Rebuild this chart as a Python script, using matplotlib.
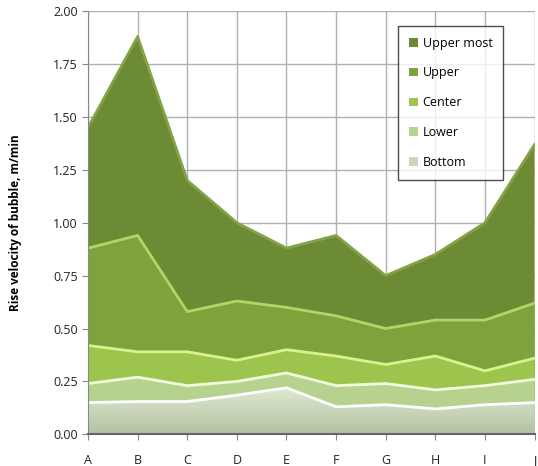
import matplotlib
matplotlib.use("Agg")
import matplotlib.pyplot as plt
import numpy as np
from matplotlib.colors import LinearSegmentedColormap

categories = ["A", "B", "C", "D", "E", "F", "G", "H", "I", "J"]
upper_most = [1.45, 1.88, 1.20, 1.00, 0.88, 0.94, 0.75, 0.85, 1.00, 1.37]
upper = [0.88, 0.94, 0.58, 0.63, 0.60, 0.56, 0.50, 0.54, 0.54, 0.62]
center = [0.42, 0.39, 0.39, 0.35, 0.40, 0.37, 0.33, 0.37, 0.30, 0.36]
lower = [0.24, 0.27, 0.23, 0.25, 0.29, 0.23, 0.24, 0.21, 0.23, 0.26]
bottom = [0.15, 0.155, 0.155, 0.185, 0.22, 0.13, 0.14, 0.12, 0.14, 0.15]

series = [
    ("Upper most", upper_most, "#6d8a35", "#84a247"),
    ("Upper", upper, "#80a23d", "#b4d46a"),
    ("Center", center, "#9dc54e", "#d9f28f"),
    ("Lower", lower, "#b7d18f", "#f2fbdc"),
    ("Bottom", bottom, "#c9d8b8", "#ffffff"),
]

plt.rcParams['font.family'] = ['Open Sans', 'DejaVu Sans']
fig = plt.figure(figsize=(5.38, 4.66), dpi=100)
ax = fig.add_axes([0.1636, 0.068, 0.830, 0.908])
x = np.arange(len(categories))

handles = []
for name, vals, fc, ec in series:
    h = ax.fill_between(x, 0, vals, facecolor=fc, edgecolor="none", label=name, zorder=2)
    if name == "Bottom":
        cmap = LinearSegmentedColormap.from_list("g", ["#b3c2a2", "#dfe9d2"])
        grad = np.linspace(0, 1, 256).reshape(-1, 1)
        im = ax.imshow(grad, cmap=cmap, origin="lower", aspect="auto",
                       extent=[0, len(categories) - 1, 0, max(vals)], zorder=2.2)
        im.set_clip_path(h.get_paths()[0], transform=ax.transData)
    ax.plot(x, vals, color=ec, lw=2.0, zorder=2.5, solid_joinstyle="round")
    handles.append(h)

ax.set_xlim(0, len(categories) - 1)
ax.set_ylim(0, 2.0)
ax.set_xticks(x)
ax.set_xticklabels(categories)
ax.set_yticks(np.arange(0, 2.01, 0.25))
ax.set_yticklabels([f"{v:.2f}" for v in np.arange(0, 2.01, 0.25)])
ax.grid(True, color="#b0b0b0", lw=1.0, zorder=0)
ax.set_axisbelow(True)
for s in ["top", "right"]:
    ax.spines[s].set_visible(False)
ax.spines["left"].set_color("#888888")
ax.spines["bottom"].set_color("#666666")
ax.spines["bottom"].set_linewidth(1.5)
ax.tick_params(axis="both", labelsize=9, colors="#222222", length=4, color="#888888")
ax.tick_params(axis="x", pad=10)
ax.set_ylabel("Rise velocity of bubble, m/min", fontsize=8.5, fontweight="bold", labelpad=22)

leg = ax.legend(handles=handles, loc="upper left", bbox_to_anchor=(0.695, 0.965),
                fontsize=9, frameon=True, fancybox=False, edgecolor="#222222",
                labelspacing=1.35, handlelength=0.7, handleheight=0.7, handletextpad=0.4,
                borderpad=0.85, borderaxespad=0)
leg.get_frame().set_linewidth(1.0)
leg.set_zorder(5)

fig.savefig("out.png", dpi=100, facecolor="white")
